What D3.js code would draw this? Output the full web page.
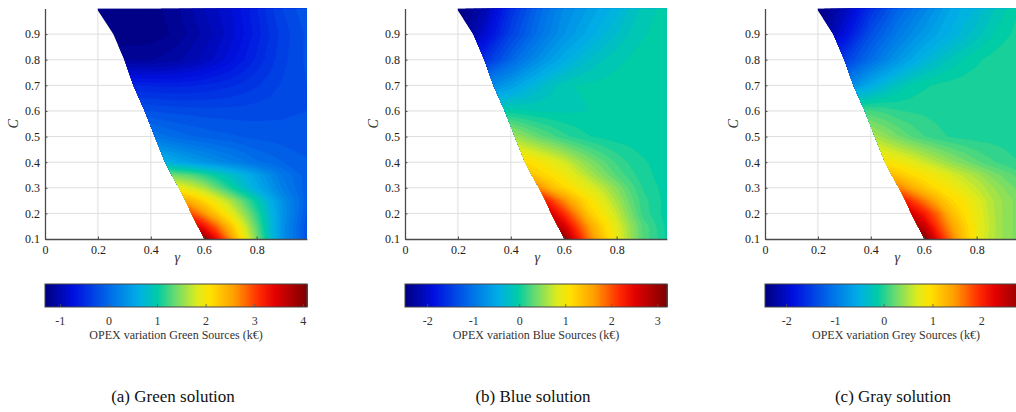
<!DOCTYPE html>
<html><head><meta charset="utf-8">
<script src="https://cdn.jsdelivr.net/npm/d3@7"></script>
<style>body{margin:0;background:#fff} svg{display:block} svg text{font-family:"Liberation Serif","DejaVu Serif",serif;}</style>
</head><body>
<svg id="chart" width="1016" height="412"></svg>
<script>
// ---- data (grid of γ columns × C rows, C ascending) ----
const gammaCols = [0.2,0.3,0.4,0.45,0.5,0.55,0.6,0.65,0.7,0.75,0.8,0.85,0.9,0.99];
const cRows = [0.1,0.15,0.2,0.25,0.3,0.35,0.4,0.5,0.6,0.7,0.8,0.9,1.0];
// feasibility boundary (minimum γ for each C)
const boundaryC = [0.1,0.15,0.2,0.25,0.3,0.35,0.4,0.5,0.6,0.7,0.8,0.9,1.0];
const boundaryGamma = [0.603,0.578,0.553,0.531,0.506,0.479,0.454,0.415,0.377,0.334,0.300,0.258,0.195];
const xTicks = [0,0.2,0.4,0.6,0.8];
const yTicks = [0.1,0.2,0.3,0.4,0.5,0.6,0.7,0.8,0.9];
const captions = ["(a) Green solution","(b) Blue solution","(c) Gray solution"];
const cbarLabels = ["OPEX variation Green Sources (k€)","OPEX variation Blue Sources (k€)","OPEX variation Grey Sources (k€)"];
const cbarDomains = [[-1.315,4.076],[-2.493,3.2],[-2.445,2.93]];
const cbarTicksGreen = [-1,0,1,2,3,4];
const cbarTicksBlue = [-2,-1,0,1,2,3];
const cbarTicksGrey = [-2,-1,0,1,2];

const greenValues = [
  [null,null,null,null,null,4.3,4.0,3.3,2.65,2.0,1.42,0.82,0.33,-0.2],
  [null,null,null,null,null,3.6,3.25,2.8,2.32,1.82,1.3,0.78,0.33,-0.2],
  [null,null,null,null,3.1,2.95,2.6,2.25,1.92,1.55,1.15,0.72,0.36,-0.15],
  [null,null,null,null,2.6,2.4,2.15,1.9,1.62,1.3,0.97,0.63,0.32,-0.1],
  [null,null,null,2.1,1.95,1.8,1.62,1.35,1.08,0.83,0.58,0.38,0.17,-0.1],
  [null,null,1.55,1.45,1.35,1.28,1.14,0.98,0.82,0.67,0.48,0.29,0.11,-0.1],
  [null,null,0.75,0.65,0.55,0.46,0.38,0.3,0.22,0.14,0.05,0.0,-0.05,-0.12],
  [null,0.2,0.12,0.05,0.0,-0.04,-0.07,-0.1,-0.12,-0.14,-0.16,-0.17,-0.18,-0.2],
  [null,-0.2,-0.22,-0.24,-0.25,-0.26,-0.27,-0.27,-0.27,-0.27,-0.26,-0.25,-0.24,-0.22],
  [-0.55,-0.55,-0.57,-0.58,-0.58,-0.57,-0.55,-0.52,-0.49,-0.45,-0.4,-0.35,-0.29,-0.22],
  [-1.15,-1.15,-1.15,-1.12,-1.08,-1.02,-0.95,-0.86,-0.76,-0.65,-0.54,-0.43,-0.33,-0.2],
  [-1.31,-1.3,-1.28,-1.25,-1.2,-1.12,-1.04,-0.95,-0.85,-0.73,-0.6,-0.47,-0.35,-0.2],
  [-1.31,-1.3,-1.27,-1.22,-1.16,-1.07,-0.98,-0.9,-0.82,-0.7,-0.57,-0.42,-0.3,-0.15]
];
const blueValues = [
  [null,null,null,null,null,3.5,3.15,2.35,1.75,1.3,0.92,0.55,0.25,-0.02],
  [null,null,null,null,null,3.0,2.6,2.05,1.55,1.18,0.85,0.52,0.24,-0.03],
  [null,null,null,null,2.85,2.6,2.15,1.7,1.25,1.0,0.72,0.4,0.14,-0.05],
  [null,null,null,null,2.5,2.1,1.7,1.35,1.07,0.85,0.58,0.32,0.12,-0.04],
  [null,null,null,2.0,1.75,1.4,1.18,1.0,0.85,0.66,0.45,0.24,0.08,-0.05],
  [null,null,1.6,1.45,1.25,1.1,0.97,0.8,0.6,0.42,0.25,0.13,0.03,-0.05],
  [null,null,1.25,1.15,1.05,0.92,0.78,0.58,0.42,0.28,0.16,0.07,0.01,-0.05],
  [null,0.65,0.58,0.45,0.32,0.22,0.12,0.05,0.0,-0.03,-0.05,-0.05,-0.05,-0.05],
  [null,-0.1,-0.05,-0.08,-0.1,-0.11,-0.11,-0.1,-0.09,-0.08,-0.07,-0.06,-0.05,-0.05],
  [-1.05,-0.9,-0.62,-0.47,-0.33,-0.22,-0.14,-0.09,-0.07,-0.06,-0.05,-0.05,-0.05,-0.05],
  [-1.9,-1.6,-1.15,-0.95,-0.78,-0.62,-0.48,-0.36,-0.26,-0.18,-0.12,-0.08,-0.06,-0.05],
  [-2.45,-2.0,-1.45,-1.25,-1.05,-0.88,-0.72,-0.6,-0.48,-0.37,-0.27,-0.17,-0.1,-0.05],
  [-2.49,-2.2,-1.6,-1.38,-1.15,-0.97,-0.8,-0.7,-0.6,-0.5,-0.4,-0.27,-0.15,-0.05]
];
const greyValues = [
  [null,null,null,null,null,3.2,2.95,2.2,1.65,1.18,0.8,0.55,0.4,0.22],
  [null,null,null,null,null,2.8,2.45,1.9,1.45,1.1,0.8,0.57,0.4,0.22],
  [null,null,null,null,2.6,2.38,2.05,1.68,1.25,0.98,0.77,0.55,0.4,0.22],
  [null,null,null,null,2.3,1.9,1.6,1.3,1.03,0.9,0.72,0.53,0.4,0.22],
  [null,null,null,1.8,1.6,1.35,1.13,0.97,0.85,0.72,0.58,0.45,0.33,0.15],
  [null,null,1.4,1.3,1.15,1.0,0.9,0.8,0.68,0.56,0.45,0.32,0.22,0.08],
  [null,null,0.98,0.92,0.84,0.74,0.62,0.5,0.38,0.28,0.18,0.1,0.04,-0.03],
  [null,0.6,0.5,0.38,0.26,0.16,0.08,0.02,-0.02,-0.04,-0.05,-0.05,-0.05,-0.05],
  [null,0.1,0.08,0.05,0.0,-0.02,-0.03,-0.04,-0.05,-0.05,-0.05,-0.05,-0.05,-0.05],
  [-1.1,-0.95,-0.55,-0.4,-0.27,-0.17,-0.11,-0.08,-0.06,-0.05,-0.05,-0.05,-0.05,-0.05],
  [-1.8,-1.5,-1.1,-0.92,-0.75,-0.6,-0.46,-0.35,-0.25,-0.17,-0.11,-0.07,-0.05,-0.03],
  [-2.4,-1.9,-1.35,-1.18,-1.0,-0.85,-0.72,-0.6,-0.5,-0.4,-0.3,-0.2,-0.12,-0.04],
  [-2.45,-2.1,-1.6,-1.4,-1.2,-1.05,-0.9,-0.75,-0.6,-0.5,-0.42,-0.3,-0.2,-0.05]
];

// jet-like colormap
const cmapPos = [0,0.11,0.25,0.36,0.43,0.5,0.58,0.63,0.72,0.82,0.88,1];
const cmapCol = ["#000080","#0010e0","#006ee8","#00b0e6","#00cca5","#6edc6e","#dceb1e","#ffe100","#ffa000","#ff2800","#e10000","#7d0000"];
const cmap = d3.scaleLinear().domain(cmapPos).range(cmapCol).interpolate(d3.interpolateRgb).clamp(true);
const NLEV = 64;
const NBAR = 200;

const panels = [
  {off:0, vals:greenValues, ticks:cbarTicksGreen},
  {off:360, vals:blueValues, ticks:cbarTicksBlue},
  {off:720, vals:greyValues, ticks:cbarTicksGrey}
];

const svg = d3.select("#chart");
const serif = '"Liberation Serif","DejaVu Serif",serif';

panels.forEach((p, pi) => {
  const [lo, hi] = cbarDomains[pi];
  const g = svg.append("g").attr("transform", `translate(${p.off},0)`);
  const x = d3.scaleLinear().domain([0, 0.99]).range([45, 306.9]);
  const y = d3.scaleLinear().domain([0.1, 1.0]).range([239, 8.5]);

  // grid lines
  g.append("g").selectAll("line").data(xTicks.filter(d => d > 0)).join("line")
    .attr("x1", d => x(d)).attr("x2", d => x(d)).attr("y1", y(0.1)).attr("y2", y(1.0))
    .attr("stroke", "#dedede").attr("stroke-width", 1);
  g.append("g").selectAll("line").data(yTicks.filter(d => d > 0.1)).join("line")
    .attr("x1", x(0)).attr("x2", x(0.99)).attr("y1", d => y(d)).attr("y2", d => y(d))
    .attr("stroke", "#dedede").attr("stroke-width", 1);

  // clip to feasible region
  const clipId = "feas" + pi;
  const poly = boundaryC.map((c, i) => [x(boundaryGamma[i]), y(c)]);
  poly.push([x(0.99), y(1.0)], [x(0.99), y(0.1)]);
  g.append("clipPath").attr("id", clipId).append("path")
    .attr("d", "M" + poly.map(q => q.join(",")).join("L") + "Z");

  // field as filled contours
  const nx = gammaCols.length, ny = cRows.length;
  const colIdx = d3.scaleLinear().domain(d3.range(nx)).range(gammaCols);
  const rowIdx = d3.scaleLinear().domain(d3.range(ny)).range(cRows);
  const flat = [];
  p.vals.forEach(row => {
    const r = row.slice();
    const f = r.findIndex(v => v != null);
    for (let i = 0; i < f; i++) r[i] = r[f];
    flat.push(...r);
  });
  const levels = d3.range(NLEV).map(k => k === 0 ? lo - 100 : lo + k * (hi - lo) / NLEV);
  const contours = d3.contours().size([nx, ny]).thresholds(levels)(flat);
  const proj = d3.geoTransform({point(px, py) {
    const gi = Math.max(0, Math.min(nx - 1, px - 0.5));
    const gj = Math.max(0, Math.min(ny - 1, py - 0.5));
    this.stream.point(x(colIdx(gi)), y(rowIdx(gj)));
  }});
  const path = d3.geoPath(proj);
  g.append("g").attr("clip-path", `url(#${clipId})`)
    .selectAll("path").data(contours).join("path")
    .attr("d", path)
    .attr("fill", (d, k) => cmap((k + 0.5) / NLEV))
    .attr("stroke", (d, k) => cmap((k + 0.5) / NLEV))
    .attr("stroke-width", 0.4);

  // axes
  const ax = g.append("g").attr("transform", `translate(0,${y(0.1)})`)
    .call(d3.axisBottom(x).tickValues(xTicks).tickSize(-2.5).tickSizeOuter(0).tickPadding(6)
      .tickFormat(d => d === 0 ? "0" : d.toFixed(1)));
  const ay = g.append("g").attr("transform", `translate(${x(0)},0)`)
    .call(d3.axisLeft(y).tickValues(yTicks).tickSize(-2.5).tickSizeOuter(0).tickPadding(5)
      .tickFormat(d => d.toFixed(1)));
  [ax, ay].forEach(a => {
    a.attr("font-family", null);
    a.select(".domain").attr("stroke", "#4a4a4a").attr("stroke-width", 1.3);
    a.selectAll(".tick line").attr("stroke", "#4a4a4a");
    a.selectAll("text").style("font-family", serif).style("font-size", "12px").attr("fill", "#222");
  });

  g.append("text").attr("x", x(0.5)).attr("y", 262).attr("text-anchor", "middle")
    .style("font-family", serif).style("font-style", "italic").style("font-size", "14px").attr("fill", "#333").text("γ");
  g.append("text").attr("transform", `translate(18,${y(0.55)}) rotate(-90)`).attr("text-anchor", "middle")
    .style("font-family", serif).style("font-style", "italic").style("font-size", "14px").attr("fill", "#333").text("C");

  // colorbar
  const cb = d3.scaleLinear().domain([lo, hi]).range([45, 307]);
  const cbTop = 284, cbH = 23;
  const steps = d3.range(NBAR);
  g.append("g").selectAll("rect").data(steps).join("rect")
    .attr("x", k => cb(lo + k * (hi - lo) / NBAR))
    .attr("width", 262 / NBAR + 0.8)
    .attr("y", cbTop).attr("height", cbH)
    .attr("fill", k => cmap((k + 0.5) / NBAR));
  g.append("rect").attr("x", 45).attr("y", cbTop).attr("width", 262).attr("height", cbH)
    .attr("fill", "none").attr("stroke", "#444").attr("stroke-width", 1);
  g.append("g").selectAll("line").data(p.ticks).join("line")
    .attr("x1", d => cb(d)).attr("x2", d => cb(d)).attr("y1", cbTop + cbH).attr("y2", cbTop + cbH - 3)
    .attr("stroke", "#555").attr("stroke-width", 0.8);
  g.append("g").selectAll("text").data(p.ticks).join("text")
    .attr("x", d => cb(d)).attr("y", 325).attr("text-anchor", "middle")
    .style("font-family", serif).style("font-size", "12px").attr("fill", "#333")
    .text(d => String(d));
  g.append("text").attr("x", 176).attr("y", 339).attr("text-anchor", "middle")
    .style("font-family", serif).style("font-size", "12px").attr("fill", "#333").text(cbarLabels[pi]);

  // caption
  g.append("text").attr("x", 173).attr("y", 402).attr("text-anchor", "middle")
    .style("font-family", serif).style("font-size", "17px").attr("fill", "#111").text(captions[pi]);
});
</script>
</body></html>
